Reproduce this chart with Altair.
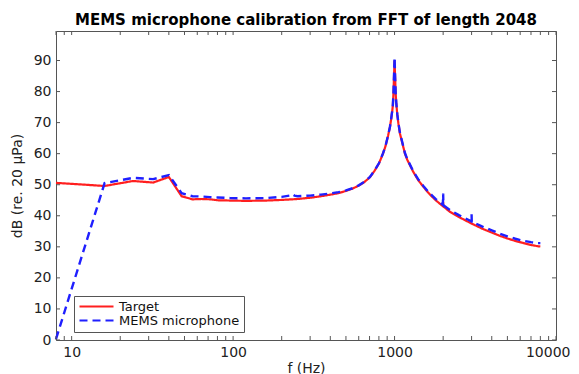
import altair as alt
import pandas as pd

# ---------------- data ----------------
series_names = ["Target", "MEMS microphone"]

f_target = [8, 16, 24, 32, 40, 48, 56, 64, 72, 80, 96, 120, 160, 200, 250, 300,
            350, 400, 450, 500, 552, 600, 648, 704, 752, 800, 848, 880, 912, 936,
            952, 968, 976, 984, 992, 1000, 1008, 1016, 1024, 1040, 1056, 1080, 1104,
            1160, 1200, 1304, 1400, 1504, 1608, 1704, 1808, 1992, 2000, 2008, 2200,
            2504, 3000, 3504, 4000, 4504, 5000, 5600, 6200, 7000, 7704, 8000]
db_target = [50.6, 49.6, 51.2, 50.7, 52.5, 46.3, 45.3, 45.4, 45.3, 45.0, 44.9, 44.8,
             44.9, 45.1, 45.4, 45.8, 46.3, 46.8, 47.3, 48.0, 48.8, 49.7, 50.8, 52.4,
             54.5, 56.8, 60.0, 62.5, 65.8, 68.5, 71.0, 73.8, 75.5, 79.0, 84.5, 90.0,
             84.5, 79.5, 76.5, 72.5, 69.8, 66.5, 64.5, 60.0, 58.0, 54.2, 51.5, 49.4,
             47.6, 46.2, 44.9, 43.1, 44.5, 43.0, 41.3, 39.6, 37.5, 35.8, 34.6, 33.5,
             32.7, 31.9, 31.3, 30.6, 30.2, 30.1]

f_mems = [8, 16, 24, 32, 40, 48, 56, 64, 72, 80, 96, 120, 160, 200, 224, 232, 240,
          250, 300, 350, 400, 450, 500, 552, 600, 648, 704, 752, 800, 848, 880, 912,
          936, 952, 968, 976, 984, 992, 1000, 1008, 1016, 1024, 1040, 1056, 1080,
          1104, 1160, 1200, 1304, 1400, 1504, 1608, 1704, 1808, 1992, 2000, 2008,
          2200, 2504, 2992, 3000, 3008, 3504, 4000, 4504, 5000, 5600, 6200, 7000,
          7704, 8000]
db_mems = [0.3, 50.5, 52.2, 51.8, 53.1, 47.3, 46.3, 46.2, 46.0, 45.9, 45.7, 45.6,
           45.7, 46.1, 46.5, 47.0, 46.5, 46.3, 46.5, 46.8, 47.2, 47.6, 48.2, 48.9,
           49.8, 50.9, 52.5, 54.6, 56.9, 60.1, 62.6, 65.9, 68.6, 71.1, 73.9, 75.6,
           79.2, 85.0, 91.0, 85.0, 79.7, 76.7, 72.7, 70.0, 66.7, 64.7, 60.2, 58.2,
           54.4, 51.8, 49.7, 47.9, 46.6, 45.3, 43.5, 47.2, 43.4, 41.9, 40.2, 38.2,
           40.5, 38.1, 36.5, 35.3, 34.2, 33.4, 32.6, 32.0, 31.5, 31.2, 31.2]

x_major_ticks = [10, 100, 1000, 10000]
x_minor_ticks = [8, 9, 20, 30, 40, 50, 60, 70, 80, 90, 200, 300, 400, 500, 600,
                 700, 800, 900, 2000, 3000, 4000, 5000, 6000, 7000, 8000, 9000]
y_ticks = [0, 10, 20, 30, 40, 50, 60, 70, 80, 90]

title_text = "MEMS microphone calibration from FFT of length 2048"
x_title = "f (Hz)"
y_title = "dB (re. 20 μPa)"

# ---------------- chart ----------------
W, H = 500, 309
FONT = "DejaVu Sans"
TXT = "#222222"

df_t = pd.DataFrame({"f": f_target, "db": db_target, "series": series_names[0]})
df_m = pd.DataFrame({"f": f_mems, "db": db_mems, "series": series_names[1]})

xscale = alt.Scale(type="log", domain=[8, 10000], nice=False)
yscale = alt.Scale(domain=[0, 99.5], nice=False, zero=False)
color_scale = alt.Scale(domain=series_names, range=["#ff1f1f", "#1f1fff"])
dash_scale = alt.Scale(domain=series_names, range=[[1, 0], [8, 5]])

legend = alt.Legend(
    title=None, orient="none", legendX=18, legendY=265, direction="vertical",
    fillColor="white", strokeColor="#555555", padding=4,
    symbolType="M-1,0H5.8", symbolSize=100, symbolStrokeWidth=2,
    labelOffset=28, rowPadding=0,
    labelFontSize=13, labelFont=FONT, labelColor="#111111", offset=0,
)

x_enc = alt.X("f:Q", scale=xscale,
              axis=alt.Axis(title=x_title, values=x_major_ticks, format="d",
                            labelPadding=5, titlePadding=2, labelFlush=True,
                            labelFlushOffset=14, labelOverlap=False))
y_enc = alt.Y("db:Q", scale=yscale,
              axis=alt.Axis(title=y_title, values=y_ticks, labelPadding=5,
                            titlePadding=9))
c_enc = alt.Color("series:N", scale=color_scale, legend=legend)
d_enc = alt.StrokeDash("series:N", scale=dash_scale, legend=legend)

red = alt.Chart(df_t).mark_line(strokeWidth=2.2).encode(
    x=x_enc, y=y_enc, color=c_enc, strokeDash=d_enc)
blue = alt.Chart(df_m).mark_line(strokeWidth=2.4).encode(
    x=x_enc, y=y_enc, color=c_enc, strokeDash=d_enc)

xt = pd.DataFrame({"f": x_major_ticks + x_minor_ticks})
yt = pd.DataFrame({"db": y_ticks})
TICK = 4
tick_style = dict(color="#555555", strokeWidth=1)
bottom_ticks = alt.Chart(xt).mark_rule(**tick_style).encode(
    x=x_enc, y=alt.value(H), y2=alt.value(H - TICK))
top_ticks = alt.Chart(xt).mark_rule(**tick_style).encode(
    x=x_enc, y=alt.value(0), y2=alt.value(TICK))
left_ticks = alt.Chart(yt).mark_rule(**tick_style).encode(
    y=y_enc, x=alt.value(0), x2=alt.value(TICK))
right_ticks = alt.Chart(yt).mark_rule(**tick_style).encode(
    y=y_enc, x=alt.value(W), x2=alt.value(W - TICK))

chart = alt.layer(red, blue, bottom_ticks, top_ticks, left_ticks, right_ticks).properties(
    width=W, height=H,
    title=alt.TitleParams(title_text, font=FONT, fontSize=15, fontWeight="bold",
                          color="#000000", anchor="middle", offset=3),
    autosize=alt.AutoSizeParams(type="none"),
    padding={"left": 48, "top": 23, "right": 15, "bottom": 34},
).configure_view(
    stroke="#555555", strokeWidth=1
).configure_axis(
    labelFont=FONT, labelFontSize=14, labelColor=TXT,
    titleFont=FONT, titleFontSize=14, titleFontWeight="normal", titleColor=TXT,
    domain=False, ticks=False, tickSize=0, grid=False,
)

chart.save("out.html", embed_options={"renderer": "svg", "actions": False})
